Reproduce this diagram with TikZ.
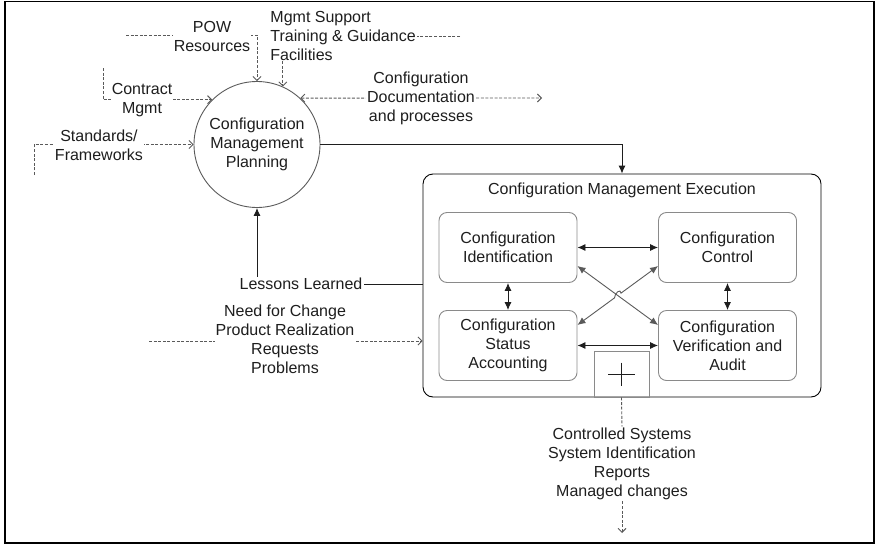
\documentclass[tikz,border=0pt]{standalone}
\usepackage{fontspec}
\setmainfont{Liberation Sans}
\usepackage{tikz}
\usetikzlibrary{arrows.meta,calc,positioning}
\definecolor{cmText}{HTML}{1E1E1E}
\definecolor{cmLine}{HTML}{5A5A5A}
\definecolor{cmBox}{HTML}{8A8A8A}

\begin{document}
\begin{tikzpicture}[x=1pt, y=-1pt, line width=0.9pt, font=\fontsize{16}{19}\selectfont, text=cmText,
  lbl/.style={align=center, fill=white, inner sep=1pt},
  flow/.style={cmLine, dash pattern=on 3pt off 1.6pt, -{Straight Barb[length=4pt,width=8pt]}},
  flowboth/.style={cmLine, dash pattern=on 3pt off 1.6pt, {Straight Barb[length=4pt,width=8pt]}-{Straight Barb[length=4pt,width=8pt]}},
  subproc/.style={draw=cmBox, rounded corners=8pt, minimum width=138pt, minimum height=70pt, align=center},
  twoway/.style={cmText, {Latex[length=8pt,width=7pt]}-{Latex[length=8pt,width=7pt]}},
  oneway/.style={cmText, -{Latex[length=8pt,width=7pt]}}]
\useasboundingbox (0,0) rectangle (877,546);
\draw[line width=1.6pt] (5,1.5) rectangle (874,543);

\node[draw=cmLine, circle, minimum size=126pt, align=center] (plan) at (257,144.5) {Configuration\\Management\\Planning};

\node[draw, rounded corners=10pt, minimum width=398pt, minimum height=223pt] (exec) at (622,285.5) {};
\node (title) at (622,190) {Configuration Management Execution};
\node[subproc] (ident) at (508,247.5) {Configuration\\Identification};
\node[subproc] (ctrl) at (727.5,247.5) {Configuration\\Control};
\node[subproc] (status) at (508,345.5) {Configuration\\Status\\Accounting};
\node[subproc] (verif) at (727.5,345.5) {Configuration\\Verification and\\Audit};
\node[draw=cmBox, minimum width=55pt, minimum height=46pt] (plusbox) at (621.5,374) {};
\draw[cmText] (plusbox.center) ++(-13.5,0) -- ++(27,0);
\draw[cmText] (plusbox.center) ++(0,-11.5) -- ++(0,23);

\draw[twoway] (ident.east) -- (ctrl.west);
\draw[twoway] (status.east) -- (verif.west);
\draw[twoway] (ident.south) -- (status.north);
\draw[twoway] (ctrl.south) -- (verif.north);
\coordinate (idd) at ([yshift=-18.5pt]ident.east);
\coordinate (vfd) at ([yshift=20.5pt]verif.west);
\coordinate (ctd) at ([yshift=-18.5pt]ctrl.west);
\coordinate (std) at ([yshift=20.5pt]status.east);
\coordinate (cross) at ($(idd)!0.5!(vfd)$);
\draw[twoway, cmLine] (idd) -- (vfd);
\draw[twoway, cmLine] (ctd) -- ($(cross)!4pt!(ctd)$) .. controls +(0,-5) and +(0,-5) .. ($(cross)!4pt!(std)$) -- (std);

\coordinate (powin) at (126,35);
\draw[flow] (powin) -| (plan.north);
\node[lbl] (pow) at (212,36) {POW\\Resources};

\coordinate (supin) at (460,36);
\draw[flow] (supin) -| (plan.66.6);
\node[lbl, align=left, anchor=west] (support) at (269,35.5) {Mgmt Support\\Training \& Guidance\\Facilities};

\coordinate (conin) at (103,68);
\draw[flow] (conin) |- (plan.135);
\node[lbl] (contract) at (142,100.5) {Contract\\Mgmt};

\coordinate (stdin) at (34,175);
\draw[flow] (stdin) |- (plan.west);
\node[lbl] (standards) at (99,145) {Standards/\\Frameworks};

\coordinate (docout) at (542,98);
\draw[flowboth] (plan.47.6) -- (docout);
\node[lbl] (docs) at (421,98) {Configuration\\Documentation\\and processes};

\draw[oneway] (plan.east) -| (exec.north);

\node[inner sep=1pt] (lessons) at (301,284) {Lessons Learned};
\draw[cmText] (exec.west |- lessons) -- (lessons.east);
\draw[oneway] (plan.south |- lessons.north) -- (plan.south);

\coordinate (needin) at (149,341);
\draw[flow] (needin) -- (exec.west |- needin);
\node[lbl] (need) at (285,339.5) {Need for Change\\Product Realization\\Requests\\Problems};

\node[align=center, inner sep=1pt] (outputs) at (622,464) {Controlled Systems\\System Identification\\Reports\\Managed changes};
\coordinate (outend) at (622,533);
\draw[flow, -] (plusbox.south) -- (outputs.north);
\draw[flow] (outputs.south) -- (outend);
\end{tikzpicture}
\end{document}
